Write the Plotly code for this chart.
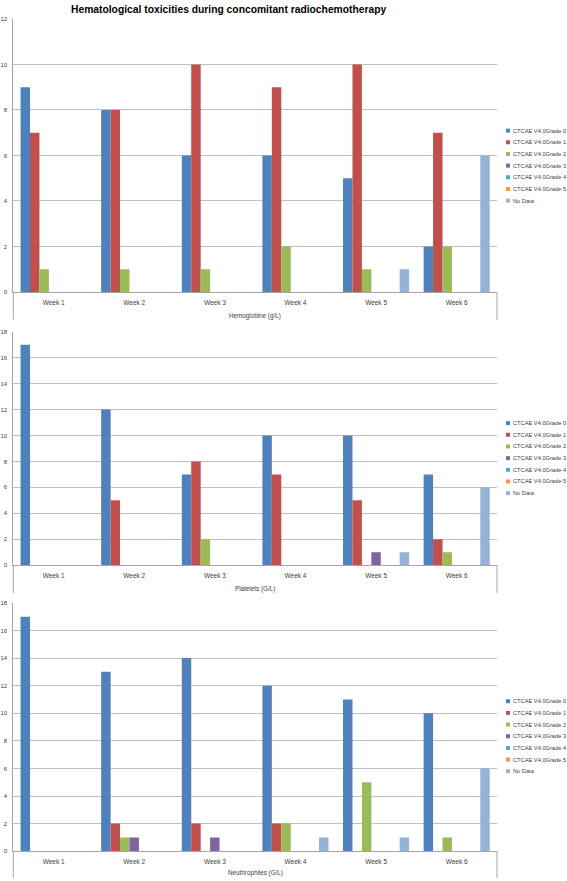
import plotly.graph_objects as go

W, H = 567, 881

weeks = ["Week 1", "Week 2", "Week 3", "Week 4", "Week 5", "Week 6"]
series_names = ["CTCAE V4.0Grade 0", "CTCAE V4.0Grade 1", "CTCAE V4.0Grade 2",
                "CTCAE V4.0Grade 3", "CTCAE V4.0Grade 4", "CTCAE V4.0Grade 5", "No Data"]
series_colors = ["#4F81BD", "#C0504D", "#9BBB59", "#8064A2", "#4BACC6", "#F79646", "#95B3D7"]

# Hemoglobine (g/L)
hemo_g0 = [9, 8, 6, 6, 5, 2]
hemo_g1 = [7, 8, 10, 9, 10, 7]
hemo_g2 = [1, 1, 1, 2, 1, 2]
hemo_g3 = [0, 0, 0, 0, 0, 0]
hemo_g4 = [0, 0, 0, 0, 0, 0]
hemo_g5 = [0, 0, 0, 0, 0, 0]
hemo_nd = [0, 0, 0, 0, 1, 6]

# Platelets (G/L)
plat_g0 = [17, 12, 7, 10, 10, 7]
plat_g1 = [0, 5, 8, 7, 5, 2]
plat_g2 = [0, 0, 2, 0, 0, 1]
plat_g3 = [0, 0, 0, 0, 1, 0]
plat_g4 = [0, 0, 0, 0, 0, 0]
plat_g5 = [0, 0, 0, 0, 0, 0]
plat_nd = [0, 0, 0, 0, 1, 6]

# Neuthrophiles (G/L)
neut_g0 = [17, 13, 14, 12, 11, 10]
neut_g1 = [0, 2, 2, 2, 0, 0]
neut_g2 = [0, 1, 0, 2, 5, 1]
neut_g3 = [0, 1, 1, 0, 0, 0]
neut_g4 = [0, 0, 0, 0, 0, 0]
neut_g5 = [0, 0, 0, 0, 0, 0]
neut_nd = [0, 0, 0, 1, 1, 6]

panel_titles = ["Hemoglobine (g/L)", "Platelets (G/L)", "Neuthrophiles (G/L)"]
panel_ymax = [12, 18, 18]
chart_title = "Hematological toxicities during concomitant radiochemotherapy"

panels = [
    [hemo_g0, hemo_g1, hemo_g2, hemo_g3, hemo_g4, hemo_g5, hemo_nd],
    [plat_g0, plat_g1, plat_g2, plat_g3, plat_g4, plat_g5, plat_nd],
    [neut_g0, neut_g1, neut_g2, neut_g3, neut_g4, neut_g5, neut_nd],
]

# layout geometry in pixels (top, baseline)
panel_px = [(16, 291), (331, 566), (604, 854)]
ext_bottom_px = [319, 594, 881]
title_px = [315, 590, 876]
legend_first_px = [128.5, 423, 703]
legend_step = 11.75
x_left_px, x_right_px = 13.3, 497

def py(px):
    return 1 - px / H

def pxx(px):
    return px / W

GRID = "#BFBFBF"
AXIS = "#A6A6A6"
TXT = "#404040"
FONT = "Liberation Sans"

fig = go.Figure()
shapes = []
annotations = []

for i, (vals_list, ytitle, ymax) in enumerate(zip(panels, panel_titles, panel_ymax)):
    sfx = "" if i == 0 else str(i + 1)
    for name, color, vals in zip(series_names, series_colors, vals_list):
        fig.add_trace(go.Bar(
            x=weeks, y=vals, name=name, marker_color=color,
            marker_line_width=0, showlegend=False,
            xaxis="x" + sfx, yaxis="y" + sfx,
        ))
    top, base = panel_px[i]
    fig.update_layout(**{
        "xaxis" + sfx: dict(
            domain=[pxx(x_left_px), pxx(x_right_px)], anchor="y" + sfx,
            showline=True, linecolor=AXIS, linewidth=1, showgrid=False,
            ticks="", tickfont=dict(size=6.5, color=TXT, family=FONT),
            ticklabelstandoff=4, fixedrange=True,
        ),
        "yaxis" + sfx: dict(
            domain=[py(base), py(top)], anchor="x" + sfx,
            range=[0, ymax], dtick=2, showline=True, linecolor=AXIS, linewidth=1,
            showgrid=True, gridcolor=GRID, gridwidth=1.2, zeroline=False,
            ticks="", tickfont=dict(size=6, color=TXT, family=FONT),
            ticklabelstandoff=4,
        ),
    })
    # extension lines below the category axis
    for xp in (x_left_px, x_right_px):
        shapes.append(dict(type="line", xref="paper", yref="paper",
                           x0=pxx(xp), x1=pxx(xp), y0=py(base), y1=py(ext_bottom_px[i]),
                           line=dict(color=AXIS, width=1)))
    # axis title
    annotations.append(dict(text=ytitle, xref="paper", yref="paper",
                            x=pxx((x_left_px + x_right_px) / 2), y=py(title_px[i]),
                            showarrow=False, xanchor="center", yanchor="middle",
                            font=dict(size=6.3, color=TXT, family=FONT)))
    # manual legend
    for k, (name, color) in enumerate(zip(series_names, series_colors)):
        yc = legend_first_px[i] + k * legend_step
        shapes.append(dict(type="rect", xref="paper", yref="paper",
                           x0=pxx(506), x1=pxx(510), y0=py(yc + 2), y1=py(yc - 2),
                           fillcolor=color, line=dict(width=0)))
        annotations.append(dict(text=name, xref="paper", yref="paper",
                                x=pxx(510.5), y=py(yc), showarrow=False,
                                xanchor="left", yanchor="middle",
                                font=dict(size=5.7, color=TXT, family=FONT)))

annotations.append(dict(text="<b>" + chart_title + "</b>", xref="paper", yref="paper",
                        x=pxx(229), y=py(6.5), showarrow=False,
                        xanchor="center", yanchor="middle",
                        font=dict(size=10.3, color="#000000", family=FONT)))

fig.update_layout(
    width=W, height=H, margin=dict(l=0, r=0, t=0, b=0),
    paper_bgcolor="white", plot_bgcolor="white",
    barmode="group", bargap=0.18, bargroupgap=0,
    shapes=shapes, annotations=annotations, showlegend=False,
)

fig.write_html(
    "out.html",
    config={"displayModeBar": False},
    post_script="document.body.style.margin='0';document.body.style.overflow='hidden';",
)
